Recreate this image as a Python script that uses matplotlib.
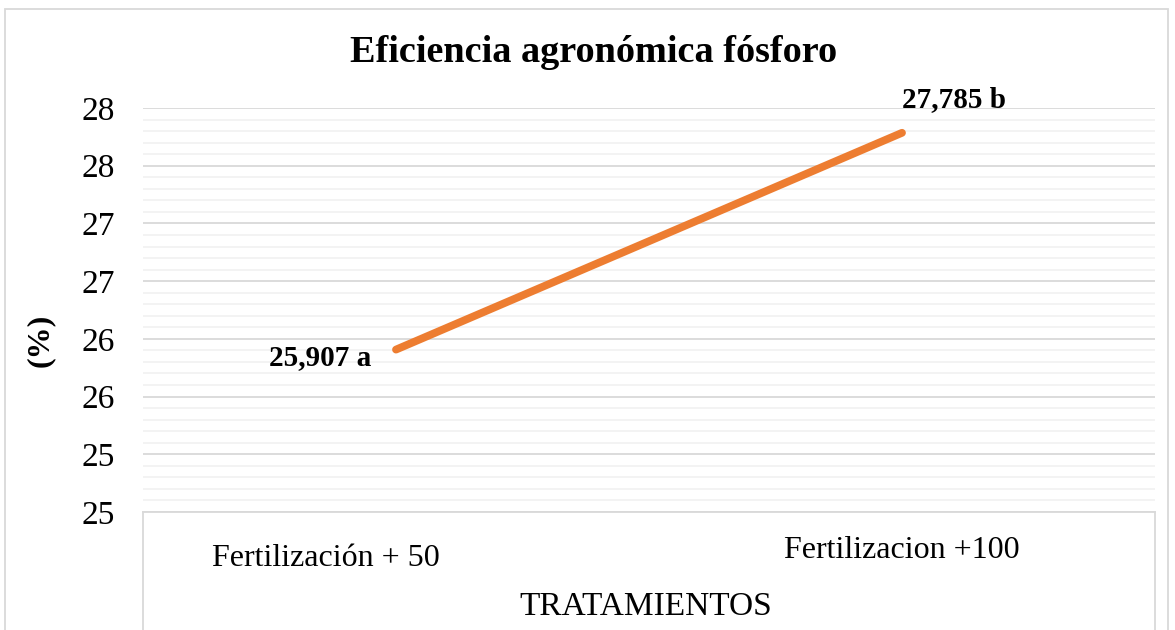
import numpy as np
import matplotlib.pyplot as plt
from matplotlib.lines import Line2D
from matplotlib.patches import Rectangle
from matplotlib.ticker import FuncFormatter, MultipleLocator

# data
tratamientos = ["Fertilización + 50", "Fertilizacion +100"]
eficiencia = [25.907, 27.785]
etiquetas = ["25,907 a", "27,785 b"]

plt.rcParams['font.family'] = ['Liberation Serif', 'DejaVu Serif']

fig = plt.figure(figsize=(11.75, 6.3), dpi=100)
ax = fig.add_axes([143/1175, 1-512/630, (1155-143)/1175, (512-108)/630])

x = np.arange(len(eficiencia))
ax.plot(x, eficiencia, color='#ED7D31', lw=5.6, solid_capstyle='round', zorder=3)
ax.set_xlim(-0.5, 1.5)
ax.set_ylim(24.5, 28)

ax.yaxis.set_major_locator(MultipleLocator(0.5))
ax.yaxis.set_minor_locator(MultipleLocator(0.1))
ax.yaxis.set_major_formatter(FuncFormatter(lambda v, p: str(int(np.floor(v + 0.5 + 1e-9)))))
ax.grid(axis='y', which='major', color='#d9d9d9', lw=1.3)
ax.grid(axis='y', which='minor', color='#f2f2f2', lw=1.3)
ax.set_axisbelow(True)
ax.tick_params(axis='y', which='both', length=0, labelsize=24, pad=20)
ax.set_xticks([])
for s in ['top', 'right', 'left']:
    ax.spines[s].set_visible(False)
ax.spines['bottom'].set_color('#d9d9d9')
ax.spines['bottom'].set_linewidth(1.3)

# data labels
ax.annotate(etiquetas[0], (x[0], eficiencia[0]), xytext=(-18, -6), textcoords='offset points',
            ha='right', va='center', fontsize=21, fontweight='bold')
ax.annotate(etiquetas[1], (x[1], eficiencia[1]), xytext=(0, 24), textcoords='offset points',
            ha='left', va='center', fontsize=21, fontweight='bold')

# category box below plot
for xx in [143, 1155]:
    fig.add_artist(Line2D([xx/1175, xx/1175], [0, 1-512/630], color='#d9d9d9', lw=1.3))
fig.text(326/1175, 1-558/630, tratamientos[0], ha='center', va='center', fontsize=23)
fig.text(902/1175, 1-550/630, tratamientos[1], ha='center', va='center', fontsize=23)
fig.text(646/1175, 1-607/630, "TRATAMIENTOS", ha='center', va='center', fontsize=24)

fig.text(594/1175, 1-53/630, "Eficiencia agronómica fósforo", ha='center', va='center',
         fontsize=27.5, fontweight='bold')
fig.text(40/1175, 1-340/630, "(%)", ha='center', va='center', rotation=90,
         fontsize=23, fontweight='bold')

# chart border
fig.add_artist(Rectangle((5/1175, -0.05), 1163/1175, 1.05 - 9/630, transform=fig.transFigure,
                         fill=False, edgecolor='#d9d9d9', lw=1.3))

fig.savefig('out.png', dpi=100)
